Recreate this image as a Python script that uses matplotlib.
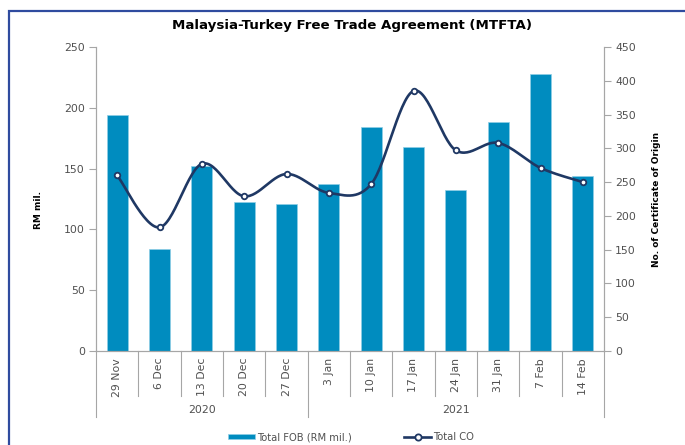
import numpy as np
import matplotlib
matplotlib.use("Agg")
import matplotlib.pyplot as plt
from matplotlib.patches import Rectangle
from matplotlib.lines import Line2D
from matplotlib.patches import Patch

# ---- data ----
categories = ["29 Nov", "6 Dec", "13 Dec", "20 Dec", "27 Dec", "3 Jan",
              "10 Jan", "17 Jan", "24 Jan", "31 Jan", "7 Feb", "14 Feb"]
years = ["2020", "2021"]
year_counts = [5, 7]
fob = [194, 84, 152, 122.5, 120.5, 137, 184, 168, 132.5, 188.5, 228, 144]
co = [260, 183, 277, 229, 262, 234, 247, 385, 297, 308, 271, 250]
title = "Malaysia-Turkey Free Trade Agreement (MTFTA)"

W, H = 685, 445
fig = plt.figure(figsize=(W / 100, H / 100), dpi=100)
plt.rcParams['font.family'] = ['DejaVu Sans']

ax_l, ax_r, ax_t, ax_b = 96, 604, 47, 351
ax = fig.add_axes([ax_l / W, 1 - ax_b / H, (ax_r - ax_l) / W, (ax_b - ax_t) / H])
ax2 = ax.twinx()

tick_col = "#505050"
spine_col = "#A6A6A6"
bar_col = "#008CBF"
line_col = "#1F3864"
fs = 7.8

x = np.arange(len(categories))
ax.bar(x, fob, width=0.49, color=bar_col, edgecolor="#8FCFE6", linewidth=0.5, zorder=2)
ax.set_xlim(-0.5, len(categories) - 0.5)
ax.set_ylim(0, 250)
ax.set_yticks(np.arange(0, 251, 50))
ax2.set_ylim(0, 450)
ax2.set_yticks(np.arange(0, 451, 50))

# smooth line (Catmull-Rom in display-proportional space)
sx = (ax_r - ax_l) / len(categories)
sy = (ax_b - ax_t) / 450
px = x * sx
py = np.array(co) * sy
P = np.column_stack([px, py])
Pext = np.vstack([P[0], P, P[-1]])
curve = []
for i in range(1, len(Pext) - 2):
    p0, p1, p2, p3 = Pext[i - 1], Pext[i], Pext[i + 1], Pext[i + 2]
    for t in np.linspace(0, 1, 30, endpoint=False):
        t2, t3 = t * t, t * t * t
        pt = 0.5 * ((2 * p1) + (-p0 + p2) * t + (2 * p0 - 5 * p1 + 4 * p2 - p3) * t2
                    + (-p0 + 3 * p1 - 3 * p2 + p3) * t3)
        curve.append(pt)
curve.append(P[-1])
curve = np.array(curve)
ax2.plot(curve[:, 0] / sx, curve[:, 1] / sy, color=line_col, lw=1.9, zorder=3,
         solid_capstyle="round")
ax2.plot(x, co, linestyle="none", marker="o", markersize=4, markerfacecolor="white",
         markeredgecolor=line_col, markeredgewidth=1.3, zorder=4)

# spines
for a in (ax, ax2):
    a.spines["top"].set_visible(False)
    for s in ("left", "right", "bottom"):
        a.spines[s].set_color(spine_col)
        a.spines[s].set_linewidth(0.8)
ax.tick_params(axis="y", colors=spine_col, labelcolor=tick_col, labelsize=fs, length=5, width=0.8, pad=3)
ax2.tick_params(axis="y", colors=spine_col, labelcolor=tick_col, labelsize=fs, length=5, width=0.8, pad=3)
ax.set_xticks(x)
ax.set_xticklabels(categories, rotation=90, color=tick_col, fontsize=fs)
ax.tick_params(axis="x", length=0, pad=5)

# category separators
tr = ax.get_xaxis_transform()
inner_y = -(396 - ax_b) / (ax_b - ax_t)
outer_y = -(417 - ax_b) / (ax_b - ax_t)
group_edges = np.cumsum([0] + year_counts)
for b in range(len(categories) + 1):
    yb = outer_y if b in group_edges else inner_y
    ax.plot([b - 0.5, b - 0.5], [0, yb], transform=tr, color=spine_col, lw=0.8, clip_on=False)
year_y = -(410 - ax_b) / (ax_b - ax_t)
for i, yr in enumerate(years):
    xc = (group_edges[i] + group_edges[i + 1] - 1) / 2
    ax.text(xc, year_y, yr, transform=tr, ha="center", va="center", color=tick_col, fontsize=fs)

# labels
ax.set_ylabel("RM mil.", fontsize=6.5, fontweight="bold", color="black")
ax.yaxis.set_label_coords((43 - ax_l) / (ax_r - ax_l), (ax_b - 210) / (ax_b - ax_t))
ax2.set_ylabel("No. of Certificate of Origin", fontsize=6.5, fontweight="bold", color="black")
ax2.yaxis.set_label_coords((652 - ax_l) / (ax_r - ax_l), (ax_b - 199) / (ax_b - ax_t))
ax2.yaxis.label.set_rotation(90)

fig.text(352 / W, 1 - 26 / H, title, ha="center", va="center",
         fontsize=9.6, fontweight="bold", color="black")

# legend
handles = [Patch(facecolor=bar_col, edgecolor="#8FCFE6", linewidth=0.5),
           Line2D([], [], color=line_col, lw=1.9, marker="o", markersize=4.5,
                  markerfacecolor="white", markeredgecolor=line_col, markeredgewidth=1.3)]
fig.legend(handles, ["Total FOB (RM mil.)", "Total CO"], loc="center",
           bbox_to_anchor=(351 / W, 1 - 437 / H), ncol=2, frameon=False,
           fontsize=7.2, labelcolor=tick_col, handlelength=2.75, handleheight=0.5,
           handletextpad=0.2, columnspacing=5.2)

# outer frame
fig.add_artist(Rectangle((9 / W, -0.2), 1.5, 1.2 - 11 / H, transform=fig.transFigure,
                         fill=False, edgecolor="#2F4B9F", linewidth=1.6))

fig.savefig("out.png", dpi=100)
